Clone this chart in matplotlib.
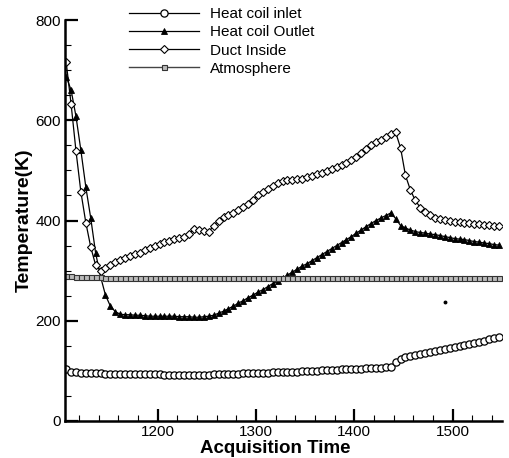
import numpy as np
import matplotlib.pyplot as plt

plt.rcParams['font.family'] = ['Liberation Sans', 'DejaVu Sans']

# sampling times (every 5 s)
time = np.arange(1107, 1550, 5)

coil_inlet = [
    103, 98, 97, 96, 96, 95, 95, 95, 94, 94,
    94, 93, 93, 93, 93, 93, 93, 93, 93, 93,
    92, 92, 92, 92, 92, 92, 91, 92, 92, 92,
    93, 93, 93, 94, 94, 94, 95, 95, 95, 96,
    96, 96, 97, 97, 97, 98, 98, 98, 99, 99,
    100, 100, 101, 101, 102, 102, 103, 103, 104, 104,
    104, 105, 105, 106, 106, 107, 108, 117, 123, 127,
    129, 131, 133, 135, 137, 139, 141, 143, 145, 147,
    150, 152, 154, 156, 158, 160, 163, 165, 168]

coil_outlet = [
    687, 661, 608, 540, 467, 405, 335, 288, 251, 229,
    218, 213, 212, 212, 211, 211, 210, 209, 209, 209,
    209, 209, 209, 208, 208, 208, 207, 207, 208, 209,
    211, 215, 219, 224, 229, 235, 240, 246, 251, 257,
    262, 268, 274, 279, 285, 291, 297, 303, 309, 314,
    320, 326, 332, 338, 344, 350, 356, 362, 368, 375,
    381, 388, 394, 400, 405, 410, 415, 404, 390, 385,
    381, 378, 376, 375, 373, 372, 370, 368, 366, 364,
    363, 362, 360, 358, 357, 355, 354, 352, 351]

duct_inside = [
    717, 633, 539, 457, 396, 347, 311, 300, 305, 312,
    318, 322, 326, 330, 333, 336, 341, 346, 350, 353,
    357, 360, 363, 366, 368, 374, 383, 381, 380, 377,
    390, 400, 407, 412, 416, 421, 427, 433, 441, 450,
    457, 462, 468, 474, 478, 480, 481, 482, 483, 486,
    489, 492, 495, 498, 503, 507, 511, 515, 520, 527,
    534, 543, 550, 556, 561, 566, 572, 576, 545, 490,
    461, 440, 426, 417, 411, 406, 403, 401, 399, 398,
    397, 396, 395, 394, 393, 392, 391, 390, 389]

atmosphere = [
    289, 289, 288, 288, 288, 288, 287, 287, 286, 285,
    285, 285, 285, 285, 285, 285, 285, 285, 285, 285,
    285, 285, 285, 285, 285, 285, 285, 285, 285, 285,
    285, 285, 285, 285, 285, 285, 285, 285, 285, 285,
    285, 285, 285, 285, 285, 285, 285, 285, 285, 285,
    285, 285, 285, 285, 285, 285, 285, 285, 285, 285,
    285, 285, 285, 285, 285, 285, 285, 285, 285, 285,
    285, 285, 285, 285, 285, 285, 285, 285, 285, 285,
    285, 285, 285, 285, 285, 285, 285, 285, 285]

# stray point in the original figure
stray_t = [1492]
stray_T = [237]

fig = plt.figure(figsize=(5.09, 4.58), dpi=100)
ax = fig.add_axes([0.128, 0.081, 0.858, 0.875])

ax.plot(time, coil_inlet, color='black', lw=0.9, marker='o', ms=5.2,
        mfc='white', mec='black', mew=0.9, label='Heat coil inlet')
ax.plot(time, coil_outlet, color='black', lw=0.9, marker='^', ms=4.0,
        mfc='black', mec='black', mew=0.6, label='Heat coil Outlet')
ax.plot(time, duct_inside, color='black', lw=0.9, marker='D', ms=3.6,
        mfc='white', mec='black', mew=0.8, label='Duct Inside')
ax.plot(time, atmosphere, color='#444444', lw=1.0, marker='s', ms=3.6,
        mfc='#bbbbbb', mec='#333333', mew=0.8, label='Atmosphere')
ax.plot(stray_t, stray_T, ls='none', marker='o', ms=1.8, color='black')

ax.set_xlim(1106, 1550)
ax.set_ylim(0, 800)
ax.set_xticks([1200, 1300, 1400, 1500])
ax.set_xticks(np.arange(1120, 1550, 20), minor=True)
ax.set_yticks([0, 200, 400, 600, 800])
ax.set_yticks(np.arange(0, 800, 50), minor=True)

for side in ['top', 'right']:
    ax.spines[side].set_visible(False)
for side in ['left', 'bottom']:
    ax.spines[side].set_linewidth(1.8)

ax.tick_params(which='major', direction='in', length=9, width=1.6, labelsize=11, pad=3)
ax.tick_params(which='minor', direction='in', length=4, width=0.8)

ax.set_xlabel('Acquisition Time', fontsize=13.5, fontweight='bold')
ax.xaxis.set_label_coords(0.482, -0.047)
ax.set_ylabel('Temperature(K)', fontsize=14, fontweight='bold', labelpad=2)

ax.legend(loc='upper left', bbox_to_anchor=(129 / 509, 1 - 7 / 458),
          bbox_transform=fig.transFigure, frameon=False, fontsize=11,
          handlelength=4.6, handletextpad=0.7, labelspacing=0.28,
          borderpad=0, borderaxespad=0, numpoints=1)

fig.savefig('out.png', dpi=100)
